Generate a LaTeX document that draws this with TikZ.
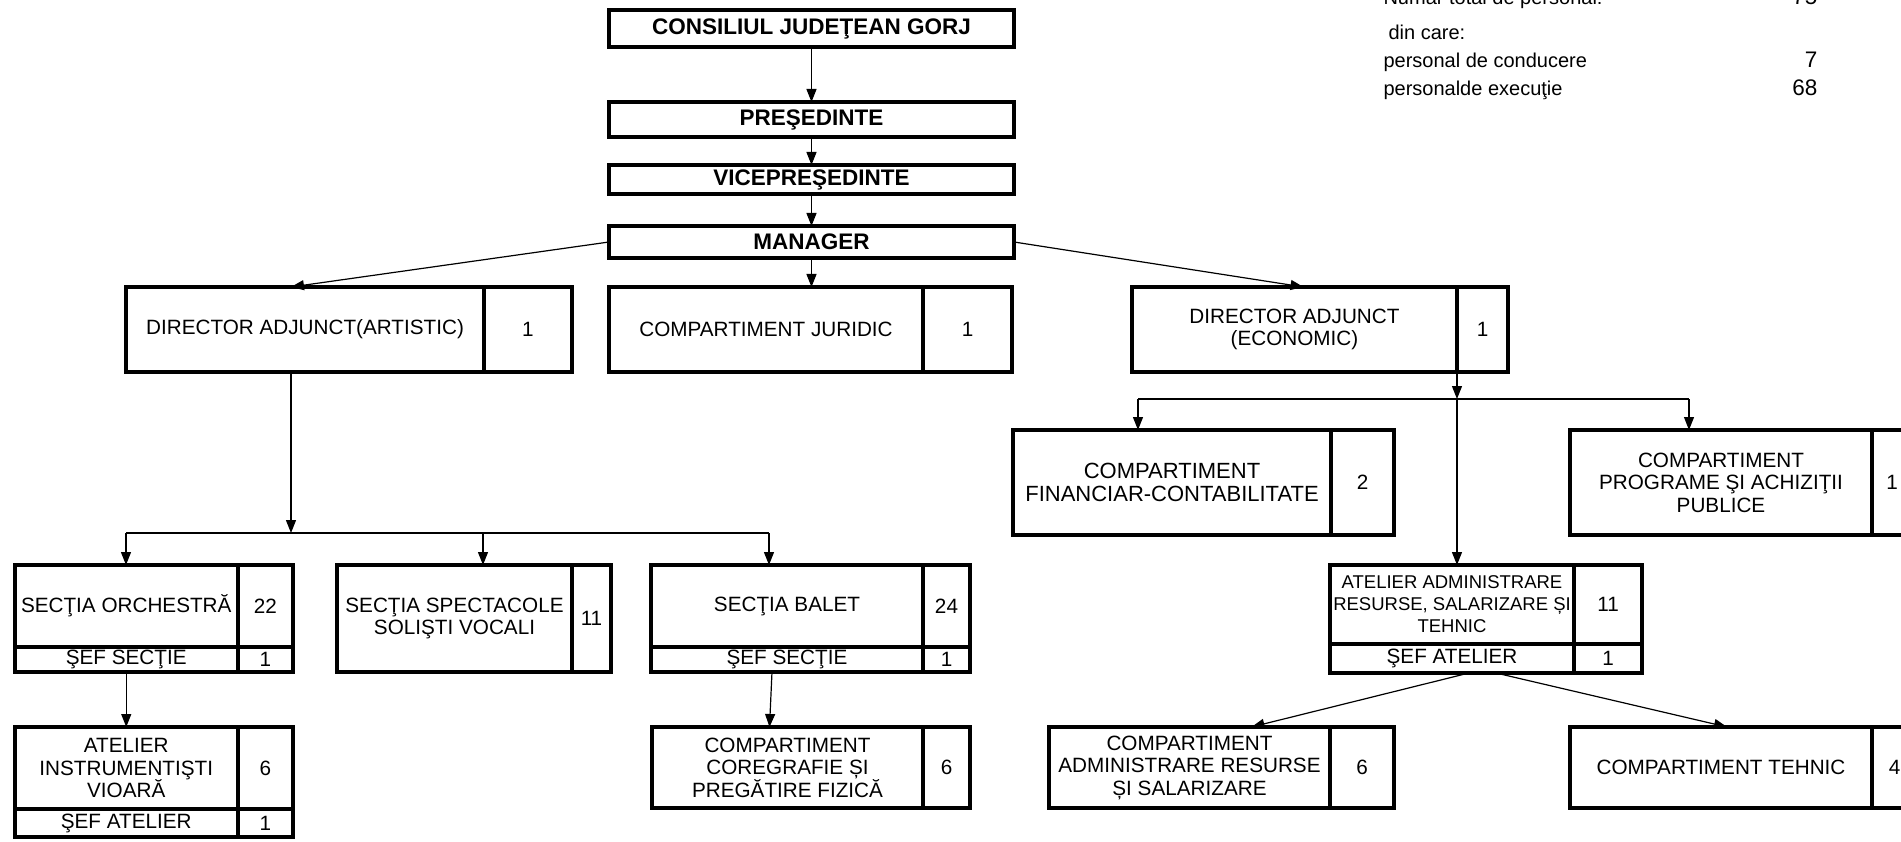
\documentclass[tikz,border=0pt]{standalone}
\usepackage{fontspec}
\setmainfont{Liberation Sans}
\usepackage{tikz}
\usetikzlibrary{shapes,arrows.meta,positioning,calc}

\begin{document}
\begin{tikzpicture}[x=1pt, y=-1pt,
    box/.style={rectangle, draw, line width=4pt, outer sep=0pt, inner sep=1pt, text centered, align=center, font=\fontsize{20.7}{22.5}\selectfont},
    head/.style={box, minimum width=405pt, font=\fontsize{22.5}{25}\selectfont\bfseries},
    arrow/.style={-{Triangle[length=13pt,width=10pt]}, line width=1.2pt},
    bar/.style={line width=1.2pt},
    note/.style={anchor=base west, font=\fontsize{20}{22}\selectfont},
    count/.style={anchor=base east, font=\fontsize{22.5}{24}\selectfont}]

    \useasboundingbox (0,0) rectangle (1901,842);
    \clip (0,0) rectangle (1901,842);

    % conducere
    \node[head, minimum height=37pt] (consiliul) at (811.5,28.5) {CONSILIUL JUDEŢEAN GORJ};
    \node[head, minimum height=35pt, below=55pt of consiliul] (pres) {PREŞEDINTE};
    \node[head, minimum height=29pt, below=28pt of pres] (vice) {VICEPREŞEDINTE};
    \node[head, minimum height=32pt, below=32pt of vice] (manager) {MANAGER};

    \node[box, minimum width=358pt, minimum height=85pt] (art) at (305,329.5) {DIRECTOR ADJUNCT(ARTISTIC)};
    \node[box, minimum width=88pt, minimum height=85pt, right=0pt of art] (artn) {1};
    \node[box, minimum width=314pt, minimum height=85pt] (jur) at (766,329.5) {COMPARTIMENT JURIDIC};
    \node[box, minimum width=89pt, minimum height=85pt, right=0pt of jur] (jurn) {1};
    \node[box, minimum width=325pt, minimum height=85pt] (econ) at (1294.5,329.5) {DIRECTOR ADJUNCT\\(ECONOMIC)};
    \node[box, minimum width=51pt, minimum height=85pt, right=0pt of econ] (econn) {1};

    % sectii artistice
    \node[box, minimum width=223.5pt, minimum height=82pt] (orch) at (126.25,606) {SECŢIA ORCHESTRĂ};
    \node[box, minimum width=55pt, minimum height=82pt, right=0pt of orch] (orchn) {22};
    \node[box, minimum width=223.5pt, minimum height=25pt, below=0pt of orch] (orchsef) {ŞEF SECŢIE};
    \node[box, minimum width=55pt, minimum height=25pt, below=0pt of orchn] (orchsefn) {1};
    \node[box, minimum width=235pt, minimum height=107pt] (spect) at (454.5,618.5) {SECŢIA SPECTACOLE\\SOLIŞTI VOCALI};
    \node[box, minimum width=39pt, minimum height=107pt, right=0pt of spect] (spectn) {11};
    \node[box, minimum width=272pt, minimum height=82pt] (balet) at (787,606) {SECŢIA BALET};
    \node[box, minimum width=47pt, minimum height=82pt, right=0pt of balet] (baletn) {24};
    \node[box, minimum width=272pt, minimum height=25pt, below=0pt of balet] (baletsef) {ŞEF SECŢIE};
    \node[box, minimum width=47pt, minimum height=25pt, below=0pt of baletn] (baletsefn) {1};

    \node[box, minimum width=223.5pt, minimum height=82pt] (vioara) at (126.25,768) {ATELIER\\INSTRUMENTIŞTI\\VIOARĂ};
    \node[box, minimum width=55pt, minimum height=82pt, right=0pt of vioara] (vioaran) {6};
    \node[box, minimum width=223.5pt, minimum height=28pt, below=0pt of vioara] (vioarasef) {ŞEF ATELIER};
    \node[box, minimum width=55pt, minimum height=28pt, below=0pt of vioaran] (vioarasefn) {1};
    \node[box, minimum width=271pt, minimum height=81pt] (coreg) at (787.5,767.5) {COMPARTIMENT\\COREGRAFIE ȘI\\PREGĂTIRE FIZICĂ};
    \node[box, minimum width=47pt, minimum height=81pt, right=0pt of coreg] (coregn) {6};

    % compartimente economice
    \node[box, minimum width=318pt, minimum height=105pt, font=\fontsize{22}{23.5}\selectfont] (fin) at (1172,482.5) {COMPARTIMENT\\FINANCIAR-CONTABILITATE};
    \node[box, minimum width=63pt, minimum height=105pt, right=0pt of fin] (finn) {2};
    \node[box, minimum width=302pt, minimum height=105pt] (prog) at (1721,482.5) {COMPARTIMENT\\PROGRAME ŞI ACHIZIŢII\\PUBLICE};
    \node[box, minimum width=40pt, minimum height=105pt, right=0pt of prog] (progn) {1};

    \node[box, minimum width=244pt, minimum height=79pt, inner sep=0pt, font=\fontsize{18.5}{22}\selectfont] (atadm) at (1452,604.5) {ATELIER ADMINISTRARE\\RESURSE, SALARIZARE ȘI\\TEHNIC};
    \node[box, minimum width=68pt, minimum height=79pt, right=0pt of atadm] (atadmn) {11};
    \node[box, minimum width=244pt, minimum height=29pt, below=0pt of atadm] (atsef) {ŞEF ATELIER};
    \node[box, minimum width=68pt, minimum height=29pt, below=0pt of atadmn] (atsefn) {1};

    \node[box, minimum width=281pt, minimum height=81pt] (admin) at (1189.5,767.5) {COMPARTIMENT\\ADMINISTRARE RESURSE\\ȘI SALARIZARE};
    \node[box, minimum width=64pt, minimum height=81pt, right=0pt of admin] (adminn) {6};
    \node[box, minimum width=302pt, minimum height=81pt] (tehnic) at (1721,767.5) {COMPARTIMENT TEHNIC};
    \node[box, minimum width=45pt, minimum height=81pt, right=0pt of tehnic] (tehnicn) {4};

    % total personal
    \node[note] (total) at (1380,5) {Numar total de personal:};
    \node[count] (totaln) at (1821,5) {75};
    \node[note] (dincare) at (1380,40) {\hspace{5pt}din care:};
    \node[note] (cond) at (1380,68) {personal de conducere};
    \node[count] (condn) at (1821,68) {7};
    \node[note] (exec) at (1380,96) {personalde execuţie};
    \node[count] (execn) at (1821,96) {68};

    \coordinate (artbar) at (291,533);
    \coordinate (artbarL) at (126,533);
    \coordinate (artbarM) at (483,533);
    \coordinate (artbarR) at (769,533);
    \coordinate (ecbar) at (1457,399);
    \coordinate (ecbarL) at (1138,399);
    \coordinate (ecbarR) at (1689,399);

    \draw[arrow] (consiliul) -- (pres);
    \draw[arrow] (pres) -- (vice);
    \draw[arrow] (vice) -- (manager);
    \draw[arrow] (manager.west) -- (art.north -| artbar);
    \draw[arrow] (manager) -- (manager |- jur.north);
    \draw[arrow] (manager.east) -- ([xshift=9pt]econ.north);

    \draw[arrow] (art.south -| artbar) -- (artbar);
    \draw[bar] (artbarL) -- (artbarR);
    \draw[arrow] (artbarL) -- (artbarL |- orch.north);
    \draw[arrow] (artbarM) -- (artbarM |- spect.north);
    \draw[arrow] (artbarR) -- (artbarR |- balet.north);
    \draw[arrow] (orchsef) -- (vioara);
    \draw[arrow] ([xshift=-15pt]baletsef.south) -- ([xshift=-18pt]coreg.north);

    \draw[arrow] (econ.south east) -- (ecbar);
    \draw[bar] (ecbarL) -- (ecbarR);
    \draw[arrow] (ecbarL) -- (ecbarL |- fin.north);
    \draw[arrow] (ecbarR) -- (ecbarR |- prog.north);
    \draw[arrow] (ecbar) -- (ecbar |- atadm.north);
    \draw[arrow] ([xshift=17pt]atsef.south) -- ([xshift=62pt]admin.north);
    \draw[arrow] ([xshift=44pt]atsef.south) -- ([xshift=6pt]tehnic.north);
\end{tikzpicture}
\end{document}
